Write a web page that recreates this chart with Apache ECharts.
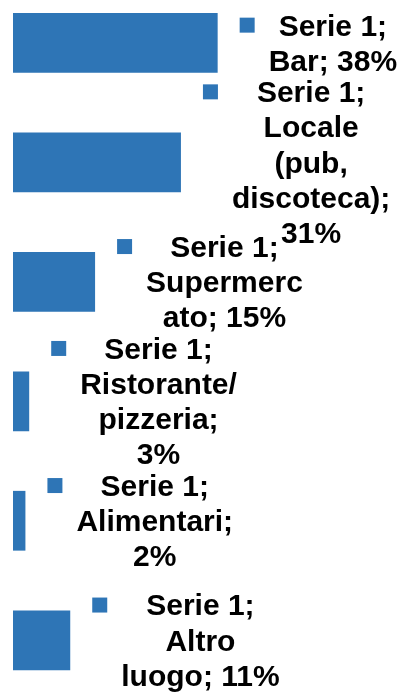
<!DOCTYPE html>
<html>
<head>
<meta charset="utf-8">
<script src="https://cdn.jsdelivr.net/npm/echarts@6/dist/echarts.min.js"></script>
<style>
  html, body { margin: 0; padding: 0; background: #fff; overflow: hidden; width: 405px; height: 693px; }
  /* the plot area runs a little past the top and bottom edges of the picture */
  #chart { position: absolute; left: 0; top: -17px; width: 405px; height: 717px; }
</style>
</head>
<body>
<div id="chart"></div>
<script>
const seriesName = 'Serie 1'
const categories = ['Bar', 'Locale (pub, discoteca)', 'Supermercato', 'Ristorante/pizzeria', 'Alimentari', 'Altro luogo']
const values = [37.9, 31.1, 15.2, 3.0, 2.3, 10.6]

const blue = '#2E75B6'
const labelFont = 'bold 30px "Liberation Sans"'

// measure text the same way the canvas will draw it
const ctx = document.createElement('canvas').getContext('2d')
ctx.font = labelFont
const measure = s => ctx.measureText(s).width

// excel-like wrapping: break at spaces and after "/", split a word if it is too long
function wrap(text, maxW) {
  const words = text.match(/[^ \/]*\/|[^ ]+/g)
  const lines = []
  let cur = ''
  for (const w of words) {
    const cand = cur ? cur + (cur.endsWith('/') ? '' : ' ') + w : w
    if (measure(cand) <= maxW) { cur = cand; continue }
    if (cur) lines.push(cur)
    cur = w
    while (measure(cur) > maxW) {
      let k = cur.length - 1
      while (k > 1 && measure(cur.slice(0, k)) > maxW) k--
      lines.push(cur.slice(0, k))
      cur = cur.slice(k)
    }
  }
  if (cur) lines.push(cur)
  return lines
}

const richLabels = values.map((v, i) => {
  const lines = wrap(`${seriesName}; ${categories[i]}; ${Math.round(v)}%`, 166)
  return lines.map((l, j) => (j === 0 ? '{m|}{s|}' : '{g|}') + '{t|' + l + '}').join('\n')
})

const chart = echarts.init(document.getElementById('chart'))

chart.setOption({
  animation: false,
  grid: { left: 13, right: 14, top: 0, bottom: 0 },
  xAxis: { type: 'value', min: 0, max: 70, show: false },
  yAxis: { type: 'category', data: categories, inverse: true, show: false },
  series: [{
    type: 'bar',
    name: seriesName,
    data: values,
    barWidth: '50%',
    itemStyle: { color: blue },
    label: {
      show: true,
      position: 'right',
      distance: 22,
      lineHeight: 35.2,
      fontFamily: 'Liberation Sans',
      fontWeight: 'bold',
      fontSize: 30,
      color: '#000',
      formatter: p => richLabels[p.dataIndex],
      rich: {
        m: { width: 15, height: 15, backgroundColor: blue, align: 'left' },
        s: { width: 14, align: 'left' },
        g: { width: 29, align: 'left' },
        // text sits a touch lower in its line than the legend key
        t: { fontFamily: 'Liberation Sans', fontWeight: 'bold', fontSize: 30, color: '#000',
             lineHeight: 35.2, height: 31, verticalAlign: 'bottom', align: 'center' }
      }
    }
  }]
})
</script>
</body>
</html>
